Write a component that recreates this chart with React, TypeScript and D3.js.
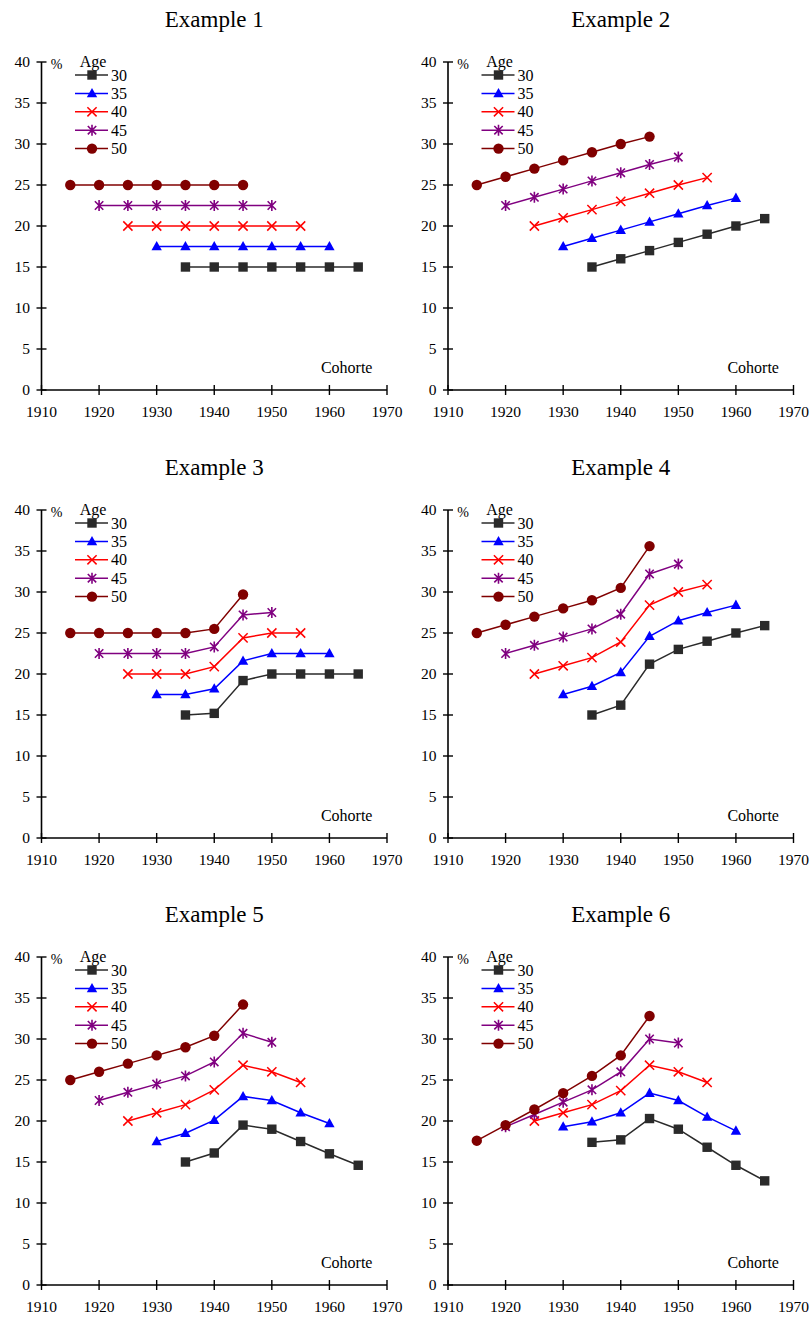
import React from "react";
import * as d3 from "d3";

// Age groups and the cohorts each one is observed for
const ages = [30, 35, 40, 45, 50];
const cohorts30 = [1935, 1940, 1945, 1950, 1955, 1960, 1965];
const cohorts35 = [1930, 1935, 1940, 1945, 1950, 1955, 1960];
const cohorts40 = [1925, 1930, 1935, 1940, 1945, 1950, 1955];
const cohorts45 = [1920, 1925, 1930, 1935, 1940, 1945, 1950];
const cohorts50 = [1915, 1920, 1925, 1930, 1935, 1940, 1945];
const cohortsByAge = [cohorts30, cohorts35, cohorts40, cohorts45, cohorts50];

// Percentages per example, one row per age group (30, 35, 40, 45, 50)
const example1 = [
  [15, 15, 15, 15, 15, 15, 15],
  [17.5, 17.5, 17.5, 17.5, 17.5, 17.5, 17.5],
  [20, 20, 20, 20, 20, 20, 20],
  [22.5, 22.5, 22.5, 22.5, 22.5, 22.5, 22.5],
  [25, 25, 25, 25, 25, 25, 25],
];
const example2 = [
  [15, 16, 17, 18, 19, 20, 20.9],
  [17.5, 18.5, 19.5, 20.5, 21.5, 22.5, 23.4],
  [20, 21, 22, 23, 24, 25, 25.9],
  [22.5, 23.5, 24.5, 25.5, 26.5, 27.5, 28.4],
  [25, 26, 27, 28, 29, 30, 30.9],
];
const example3 = [
  [15, 15.2, 19.2, 20, 20, 20, 20],
  [17.5, 17.5, 18.2, 21.6, 22.5, 22.5, 22.5],
  [20, 20, 20, 20.9, 24.4, 25, 25],
  [22.5, 22.5, 22.5, 22.5, 23.3, 27.2, 27.5],
  [25, 25, 25, 25, 25, 25.5, 29.7],
];
const example4 = [
  [15, 16.2, 21.2, 23, 24, 25, 25.9],
  [17.5, 18.5, 20.2, 24.6, 26.5, 27.5, 28.4],
  [20, 21, 22, 23.9, 28.4, 30, 30.9],
  [22.5, 23.5, 24.5, 25.5, 27.3, 32.2, 33.4],
  [25, 26, 27, 28, 29, 30.5, 35.6],
];
const example5 = [
  [15, 16.1, 19.5, 19, 17.5, 16, 14.6],
  [17.5, 18.5, 20.1, 23, 22.5, 21, 19.7],
  [20, 21, 22, 23.8, 26.8, 26, 24.7],
  [22.5, 23.5, 24.5, 25.5, 27.2, 30.7, 29.6],
  [25, 26, 27, 28, 29, 30.4, 34.2],
];
const example6 = [
  [17.4, 17.7, 20.3, 19, 16.8, 14.6, 12.7],
  [19.3, 19.9, 21, 23.4, 22.5, 20.5, 18.8],
  [20, 21, 22, 23.7, 26.8, 26, 24.7],
  [19.3, 20.8, 22.3, 23.8, 26, 30, 29.5],
  [17.6, 19.5, 21.4, 23.4, 25.5, 28, 32.8],
];
const examples = [example1, example2, example3, example4, example5, example6];
const titles = ["Example 1", "Example 2", "Example 3", "Example 4", "Example 5", "Example 6"];

const xTicks = [1910, 1920, 1930, 1940, 1950, 1960, 1970];
const yTicks = [0, 5, 10, 15, 20, 25, 30, 35, 40];

const colors = ["#2a2a2a", "#0000ff", "#ff0000", "#800080", "#800000"];
const FONT = "Liberation Serif, Times New Roman, serif";

function Marker({ kind, x, y, color }: { kind: number; x: number; y: number; color: string }) {
  if (kind === 0) {
    return <rect x={x - 4.7} y={y - 4.7} width={9.4} height={9.4} fill={color} />;
  }
  if (kind === 1) {
    const p = `M${x},${y - 5.5}L${x + 5.2},${y + 3.8}L${x - 5.2},${y + 3.8}Z`;
    return <path d={p} fill={color} />;
  }
  if (kind === 2) {
    const r = 4.6;
    return (
      <path
        d={`M${x - r},${y - r}L${x + r},${y + r}M${x - r},${y + r}L${x + r},${y - r}`}
        stroke={color}
        strokeWidth={1.5}
        fill="none"
      />
    );
  }
  if (kind === 3) {
    const r = 4.2;
    return (
      <path
        d={`M${x - r},${y - r}L${x + r},${y + r}M${x - r},${y + r}L${x + r},${y - r}M${x},${y - 5.5}L${x},${y + 5.5}`}
        stroke={color}
        strokeWidth={1.6}
        fill="none"
      />
    );
  }
  return <circle cx={x} cy={y} r={5.2} fill={color} />;
}

function Panel({ data, title, left, top }: { data: number[][]; title: string; left: number; top: number }) {
  const x = d3.scaleLinear().domain([1910, 1970]).range([left, left + 345.5]);
  const y = d3.scaleLinear().domain([0, 40]).range([top + 328, top]);
  const line = d3
    .line<[number, number]>()
    .x((d) => x(d[0]))
    .y((d) => y(d[1]));
  const x0 = x(1910);
  const yBase = y(0);
  return (
    <g fill="#000">
      <text x={(x(1910) + x(1970)) / 2} y={top - 35} textAnchor="middle" fontSize={23}>
        {title}
      </text>
      {/* axes */}
      <line x1={x0} x2={x0} y1={y(40)} y2={yBase} stroke="#000" strokeWidth={1.6} />
      <line x1={x0} x2={x(1970)} y1={yBase} y2={yBase} stroke="#000" strokeWidth={1.6} />
      {yTicks.map((t) => (
        <g key={"y" + t}>
          <line x1={x0 - 5} x2={x0 + 5} y1={y(t)} y2={y(t)} stroke="#000" strokeWidth={1.4} />
          <text x={x0 - 11.5} y={y(t) + 5} textAnchor="end" fontSize={15.5}>
            {t}
          </text>
        </g>
      ))}
      {xTicks.map((t) => (
        <g key={"x" + t}>
          <line x1={x(t)} x2={x(t)} y1={yBase - 5} y2={yBase + 5} stroke="#000" strokeWidth={1.4} />
          <text x={x(t)} y={yBase + 27} textAnchor="middle" fontSize={15.5}>
            {t}
          </text>
        </g>
      ))}
      <text x={x0 + 15} y={y(40) + 7} textAnchor="middle" fontSize={14}>
        %
      </text>
      <text x={x(1963)} y={yBase - 17} textAnchor="middle" fontSize={16}>
        Cohorte
      </text>
      {/* series */}
      {data.map((vals, i) => {
        const pts: [number, number][] = cohortsByAge[i].map((c, j) => [c, vals[j]]);
        return (
          <g key={"s" + i}>
            <path d={line(pts) || ""} fill="none" stroke={colors[i]} strokeWidth={1.5} />
            {pts.map((p, j) => (
              <Marker key={j} kind={i} x={x(p[0])} y={y(p[1])} color={colors[i]} />
            ))}
          </g>
        );
      })}
      {/* legend */}
      <text x={x0 + 51.5} y={y(40) + 5} textAnchor="middle" fontSize={16}>
        Age
      </text>
      {ages.map((a, i) => {
        const ly = y(40) + 13 + i * 18.4;
        return (
          <g key={"l" + a}>
            <line x1={x0 + 33.5} x2={x0 + 66.5} y1={ly} y2={ly} stroke={colors[i]} strokeWidth={1.5} />
            <Marker kind={i} x={x0 + 50.5} y={ly} color={colors[i]} />
            <text x={x0 + 69.5} y={ly + 5.5} fontSize={16}>
              {a}
            </text>
          </g>
        );
      })}
    </g>
  );
}

export default function App() {
  const lefts = [41.5, 448];
  const tops = [62, 510, 957];
  return (
    <svg
      width={811}
      height={1318}
      style={{ position: "absolute", left: 0, top: 0, background: "#fff", fontFamily: FONT }}
    >
      <rect width={811} height={1318} fill="#fff" />
      {examples.map((ex, k) => (
        <Panel key={k} data={ex} title={titles[k]} left={lefts[k % 2]} top={tops[Math.floor(k / 2)]} />
      ))}
    </svg>
  );
}
